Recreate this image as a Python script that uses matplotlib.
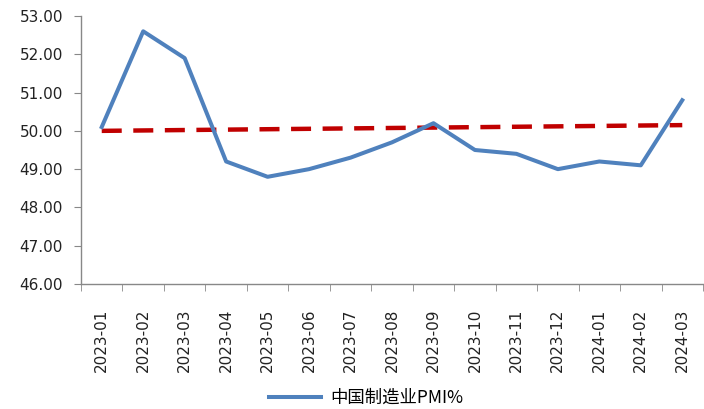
import numpy as np
import matplotlib.pyplot as plt

months = ['2023-01', '2023-02', '2023-03', '2023-04', '2023-05', '2023-06', '2023-07', '2023-08',
          '2023-09', '2023-10', '2023-11', '2023-12', '2024-01', '2024-02', '2024-03']
pmi = [50.1, 52.6, 51.9, 49.2, 48.8, 49.0, 49.3, 49.7, 50.2, 49.5, 49.4, 49.0, 49.2, 49.1, 50.8]
trend_ends = [50.0, 50.15]

plt.rcParams['font.family'] = ['DejaVu Sans', 'Noto Sans CJK SC']

fig = plt.figure(figsize=(7.04, 4.09), dpi=100)
ax = fig.add_axes([81/704, 1-284/409, 622/704, 268/409])

x = np.arange(len(months))
ax.plot(x, pmi, color='#4F81BD', lw=2.9, solid_joinstyle='round', label='中国制造业PMI%')
ax.plot([x[0], x[-1]], trend_ends, color='#C00000', lw=3.2, ls=(0, (4.5, 2.6)), zorder=1)

ax.set_xlim(-0.5, len(months) - 0.5)
ax.set_ylim(46, 53)
ax.set_yticks(np.arange(46, 53.5, 1))
ax.set_yticklabels([f'{v:.2f}' for v in np.arange(46, 53.5, 1)], fontsize=11, color='#222222')
ax.set_xticks(x)
ax.set_xticklabels(months, rotation=90, fontsize=11, color='#222222')
ax.set_xticks(np.arange(-0.5, len(months)), minor=True)
ax.tick_params(axis='x', which='major', length=0, pad=18)
ax.tick_params(axis='x', which='minor', length=5, color='#888888', direction='out')
ax.tick_params(axis='y', length=5, color='#888888', direction='out', pad=8)

for s in ['top', 'right']:
    ax.spines[s].set_visible(False)
for s in ['left', 'bottom']:
    ax.spines[s].set_color('#888888')
    ax.spines[s].set_linewidth(1)

fig.legend(loc='center', bbox_to_anchor=(366/704, 1-398/409), frameon=False,
           prop={'family': ['Noto Sans CJK SC', 'DejaVu Sans'], 'size': 12.5},
           handlelength=3.0, handletextpad=0.5)

fig.savefig('out.png', dpi=100)
